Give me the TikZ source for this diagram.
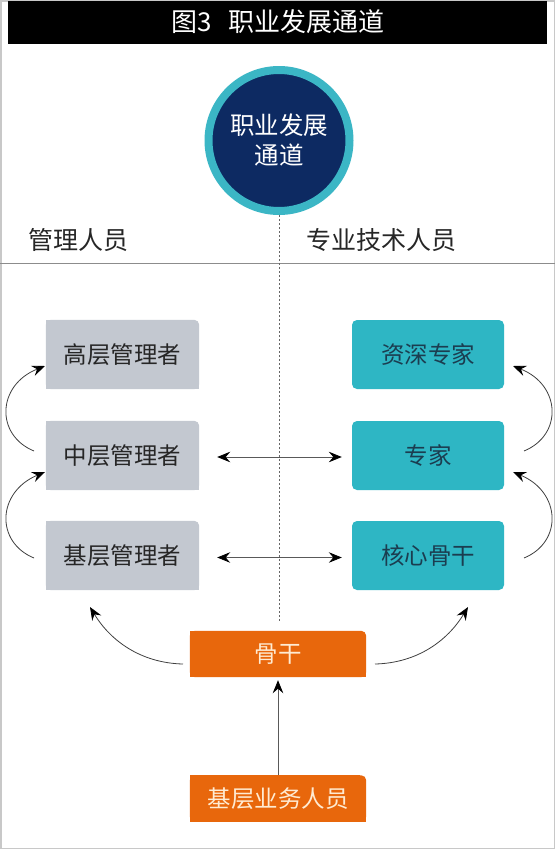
\documentclass[tikz,border=0pt]{standalone}
\usepackage{fontspec}
\setmainfont{Noto Sans CJK SC}
\usetikzlibrary{arrows.meta,backgrounds}
\definecolor{navy}{HTML}{0D2A62}
\definecolor{ring}{HTML}{3BB6C5}
\definecolor{boxgray}{HTML}{C3C8D0}
\definecolor{boxteal}{HTML}{2EB6C4}
\definecolor{boxorange}{HTML}{E8670C}
\definecolor{tealtext}{HTML}{1B3D50}
\definecolor{orangetext}{HTML}{FFEBD2}
\definecolor{framegray}{HTML}{C8C8C8}
\newcommand\cornerfill[2]{%
  \fill[#2,rounded corners=5pt] (#1.south west) rectangle (#1.north east);
  \fill[#2] (#1.south west) rectangle ([xshift=-6pt]#1.north east);
  \fill[#2] (#1.south west) rectangle ([yshift=-6pt]#1.north east);}
\begin{document}
\begin{tikzpicture}[x=1pt,y=-1pt,
  mytip/.tip={Stealth[length=13pt,width=10.5pt,inset=4.5pt,color=black]},
  boxtext/.style={font=\fontsize{23.5}{23.5}\selectfont},
  graybox/.style={boxtext,minimum width=153pt,minimum height=69pt,text=black!85,inner sep=0pt},
  tealbox/.style={boxtext,minimum width=152pt,minimum height=69pt,text=tealtext,inner sep=0pt,fill=boxteal,rounded corners=5pt},
  orangebox/.style={boxtext,minimum width=176pt,minimum height=46pt,text=orangetext,inner sep=0pt},
  header/.style={font=\fontsize{25}{25}\selectfont,text=black!85},
  carrow/.style={-{mytip},line width=0.8pt,black!75},
  dblarrow/.style={{mytip}-{mytip},line width=0.8pt,black!65},
  uparrow/.style={-{mytip},line width=0.8pt,black!65}]
\useasboundingbox (0,0) rectangle (555,849);
\draw[framegray,line width=1.5pt] (0.75,0.75) rectangle (554.25,848.25);
% title bar
\fill[black] (8,1) rectangle (547,44);
\node[text=white,font=\fontsize{26}{26}\selectfont] (title) at (278,22) {图3\hspace{0.6em}职业发展通道};
% separator
\draw[black!45,line width=0.8pt] (0,263) -- (555,263);
% circle
\node[circle,minimum size=141pt,fill=navy,draw=ring,line width=8pt,text=white,align=center,
  font=\fontsize{24.5}{30}\selectfont,inner sep=0pt] (circ) at (279,140.5) {职业发展\\通道};
\coordinate (dend) at (279,622);
\draw[black!60,line width=0.8pt,dash pattern=on 2pt off 2pt] (circ.south) -- (dend);
% headers
\node[header] (lm) at (78,240) {管理人员};
\node[header] (lt) at (381,240) {专业技术人员};
% boxes
\node[graybox] (g1) at (122.5,354.5) {高层管理者};
\node[graybox] (g2) at (122.5,455.5) {中层管理者};
\node[graybox] (g3) at (122.5,555.5) {基层管理者};
\node[tealbox] (t1) at (428,354.5) {资深专家};
\node[tealbox] (t2) at (428,455.5) {专家};
\node[tealbox] (t3) at (428,555.5) {核心骨干};
\node[orangebox] (o1) at (278,654) {骨干};
\node[orangebox] (o2) at (278,798.5) {基层业务人员};
\begin{scope}[on background layer]
  \fill[white] (0,0) rectangle (555,849);
  \cornerfill{g1}{boxgray}
  \cornerfill{g2}{boxgray}
  \cornerfill{g3}{boxgray}
  \cornerfill{o1}{boxorange}
  \cornerfill{o2}{boxorange}
\end{scope}
% horizontal double arrows
\draw[dblarrow] ([xshift=18pt,yshift=-1.5pt]g2.east) -- ([xshift=-10pt,yshift=-1.5pt]t2.west);
\draw[dblarrow] ([xshift=18pt,yshift=-2pt]g3.east) -- ([xshift=-10pt,yshift=-2pt]t3.west);
% vertical arrow
\draw[uparrow,shorten >=3pt] (o2.north) -- (o1.south);
% curved arrows left
\coordinate (l1s) at (34,451); \coordinate (l1e) at (45,366);
\coordinate (l2s) at (34,558); \coordinate (l2e) at (45,472);
\draw[carrow] (l1s) .. controls (-5,435) and (-3,385) .. (l1e);
\draw[carrow] (l2s) .. controls (-5,542) and (-3,492) .. (l2e);
% curved arrows right
\coordinate (r1s) at (524,451); \coordinate (r1e) at (513,366);
\coordinate (r2s) at (524,558); \coordinate (r2e) at (513,472);
\draw[carrow] (r1s) .. controls (563,435) and (561,385) .. (r1e);
\draw[carrow] (r2s) .. controls (563,542) and (561,492) .. (r2e);
% curved arrows from 骨干
\coordinate (bls) at (183,664); \coordinate (ble) at (90,607);
\coordinate (brs) at (375,664); \coordinate (bre) at (468,607);
\draw[carrow] (bls) .. controls (140,663) and (110,640) .. (ble);
\draw[carrow] (brs) .. controls (418,663) and (448,640) .. (bre);
\end{tikzpicture}
\end{document}
